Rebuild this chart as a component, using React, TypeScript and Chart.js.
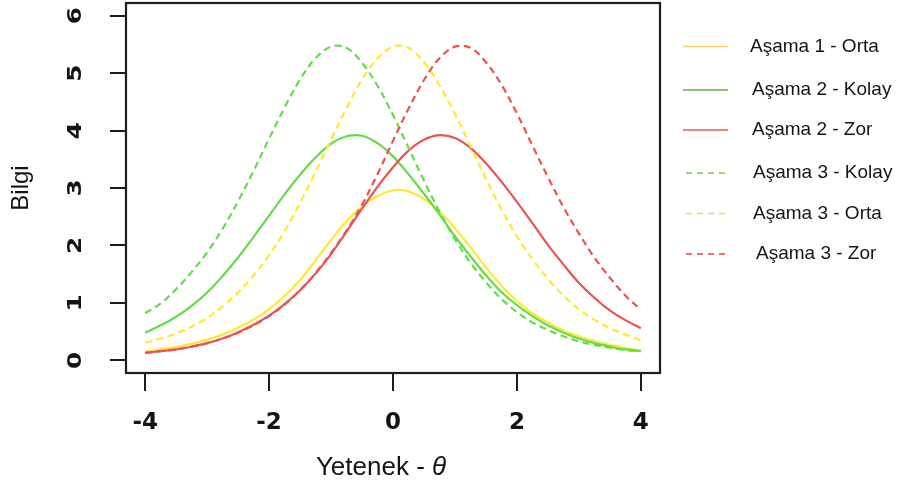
import React, { useEffect, useRef } from 'react';
import { Chart, registerables } from 'chart.js';

Chart.register(...registerables);

// ---- data ----
const thetaValues = [-4, -3.75, -3.5, -3.25, -3, -2.75, -2.5, -2.25, -2, -1.75, -1.5, -1.25, -1, -0.75, -0.5, -0.25, 0, 0.25, 0.5, 0.75, 1, 1.25, 1.5, 1.75, 2, 2.25, 2.5, 2.75, 3, 3.25, 3.5, 3.75, 4];

const asama1Orta = [0.15, 0.19, 0.23, 0.29, 0.36, 0.45, 0.57, 0.71, 0.89, 1.12, 1.40, 1.74, 2.09, 2.42, 2.68, 2.86, 2.96, 2.94, 2.81, 2.59, 2.30, 1.97, 1.62, 1.30, 1.03, 0.82, 0.66, 0.52, 0.42, 0.34, 0.27, 0.22, 0.17];
const asama2Kolay = [0.48, 0.61, 0.76, 0.95, 1.18, 1.47, 1.79, 2.15, 2.52, 2.89, 3.23, 3.53, 3.77, 3.90, 3.91, 3.78, 3.55, 3.24, 2.90, 2.54, 2.16, 1.81, 1.48, 1.19, 0.96, 0.77, 0.61, 0.48, 0.38, 0.30, 0.24, 0.19, 0.16];
const asama2Zor = [0.13, 0.16, 0.19, 0.24, 0.30, 0.38, 0.49, 0.62, 0.78, 0.98, 1.22, 1.51, 1.85, 2.24, 2.64, 3.02, 3.36, 3.65, 3.84, 3.92, 3.87, 3.70, 3.43, 3.11, 2.76, 2.39, 2.01, 1.67, 1.35, 1.09, 0.87, 0.70, 0.56];
const asama3Kolay = [0.82, 0.99, 1.24, 1.54, 1.88, 2.29, 2.77, 3.30, 3.86, 4.40, 4.89, 5.26, 5.46, 5.44, 5.18, 4.78, 4.27, 3.70, 3.13, 2.59, 2.11, 1.70, 1.36, 1.07, 0.84, 0.66, 0.53, 0.42, 0.33, 0.27, 0.22, 0.18, 0.16];
const asama3Orta = [0.31, 0.38, 0.47, 0.59, 0.74, 0.94, 1.18, 1.48, 1.83, 2.25, 2.74, 3.28, 3.84, 4.39, 4.89, 5.26, 5.46, 5.44, 5.19, 4.79, 4.29, 3.73, 3.16, 2.63, 2.16, 1.76, 1.42, 1.13, 0.89, 0.71, 0.56, 0.45, 0.35];
const asama3Zor = [0.13, 0.16, 0.19, 0.24, 0.30, 0.38, 0.48, 0.61, 0.77, 0.97, 1.22, 1.52, 1.87, 2.26, 2.71, 3.24, 3.82, 4.38, 4.88, 5.26, 5.46, 5.44, 5.19, 4.80, 4.30, 3.74, 3.19, 2.67, 2.21, 1.79, 1.44, 1.13, 0.88];

const seriesLabels = ['Aşama 1 - Orta', 'Aşama 2 - Kolay', 'Aşama 2 - Zor', 'Aşama 3 - Kolay', 'Aşama 3 - Orta', 'Aşama 3 - Zor'];
const seriesValues = [asama1Orta, asama2Kolay, asama2Zor, asama3Kolay, asama3Orta, asama3Zor];

const xTicks = [-4, -2, 0, 2, 4];
const yTicks = [0, 1, 2, 3, 4, 5, 6];
const xTitleMain = 'Yetenek - ';
const xTitleSymbol = 'θ';
const yTitle = 'Bilgi';

// ---- styles ----
const lineColors = ['#ffe92e', '#62dc4a', '#ec5252', '#62dc4a', '#ffe92e', '#ec5252'];
const legendColors = ['#f6d35a', '#6aac4c', '#e35c4e', '#7cc15a', '#f6d35a', '#e8493e'];
const dashed = [false, false, false, true, true, true];
const legendRowY = [46.5, 90, 130, 173, 213.5, 254];
const legendTextX = [750, 752, 752, 753, 753, 756];

const overlayPlugin = {
  id: 'overlayPlugin',
  afterDraw(chart: any) {
    const { ctx, chartArea: a } = chart;
    ctx.save();
    // frame
    ctx.strokeStyle = '#1c1c1c';
    ctx.lineWidth = 2.2;
    ctx.setLineDash([]);
    ctx.strokeRect(a.left, a.top, a.right - a.left, a.bottom - a.top);

    // rotated y tick labels
    const ys = chart.scales.y;
    ctx.fillStyle = '#141414';
    ctx.font = 'bold 19px "DejaVu Sans"';
    ctx.textAlign = 'center';
    ctx.textBaseline = 'middle';
    for (const v of yTicks) {
      const py = ys.getPixelForValue(v);
      ctx.save();
      ctx.translate(76, py);
      ctx.rotate(-Math.PI / 2);
      ctx.scale(1.3, 1);
      ctx.fillText(String(v), 0, 0);
      ctx.restore();
    }

    // x axis title with italic theta
    ctx.textBaseline = 'alphabetic';
    ctx.textAlign = 'left';
    const mainFont = '26px "Liberation Sans"';
    const symFont = 'italic 26px "Liberation Sans"';
    ctx.font = mainFont;
    const w1 = ctx.measureText(xTitleMain).width;
    ctx.font = symFont;
    const w2 = ctx.measureText(xTitleSymbol).width;
    const cx = 381;
    const startX = cx - (w1 + w2) / 2;
    ctx.fillStyle = '#141414';
    ctx.font = mainFont;
    ctx.fillText(xTitleMain, startX, 475);
    ctx.font = symFont;
    ctx.fillText(xTitleSymbol, startX + w1, 475);

    // legend
    chart.data.datasets.forEach((ds: any, i: number) => {
      const y = legendRowY[i];
      ctx.save();
      ctx.strokeStyle = legendColors[i];
      ctx.lineWidth = 1.6;
      if (dashed[i]) {
        ctx.setLineDash([6, 5]);
        ctx.beginPath();
        ctx.moveTo(686, y);
        ctx.lineTo(725, y);
      } else {
        ctx.setLineDash([]);
        ctx.beginPath();
        ctx.moveTo(683, y);
        ctx.lineTo(728, y);
      }
      ctx.stroke();
      ctx.restore();
      ctx.fillStyle = '#141414';
      ctx.font = '19px "Liberation Sans"';
      ctx.textAlign = 'left';
      ctx.textBaseline = 'middle';
      ctx.fillText(ds.label, legendTextX[i], y);
    });
    ctx.restore();
  },
};

export default function App() {
  const ref = useRef<HTMLCanvasElement>(null);

  useEffect(() => {
    if (!ref.current) return;
    const datasets = seriesLabels.map((label, i) => ({
      label,
      data: thetaValues.map((x, j) => ({ x, y: seriesValues[i][j] })),
      borderColor: lineColors[i],
      backgroundColor: lineColors[i],
      borderWidth: 2.2,
      borderDash: dashed[i] ? [7, 4.5] : [],
      pointRadius: 0,
      tension: 0.35,
      fill: false,
      order: seriesLabels.length - i,
    }));

    const chart = new Chart(ref.current, {
      type: 'line',
      data: { datasets },
      options: {
        animation: false,
        responsive: false,
        devicePixelRatio: 1,
        layout: { padding: { left: 0, right: 238, top: 3, bottom: 0 } },
        plugins: {
          legend: { display: false },
          tooltip: { enabled: false },
        },
        scales: {
          x: {
            type: 'linear',
            min: -4.31,
            max: 4.31,
            afterBuildTicks: (scale: any) => {
              scale.ticks = xTicks.map((v) => ({ value: v }));
            },
            afterFit: (scale: any) => {
              scale.height = 108;
            },
            ticks: {
              autoSkip: false,
              maxRotation: 0,
              minRotation: 0,
              padding: 18,
              color: '#141414',
              font: { family: '"DejaVu Sans"', weight: 'bold', size: 23 },
            },
            grid: {
              display: true,
              drawOnChartArea: false,
              drawTicks: true,
              tickLength: 18,
              lineWidth: 2,
              color: '#1c1c1c',
            },
            border: { display: false },
            title: { display: false },
          },
          y: {
            type: 'linear',
            min: -0.22,
            max: 6.22,
            afterBuildTicks: (scale: any) => {
              scale.ticks = yTicks.map((v) => ({ value: v }));
            },
            afterFit: (scale: any) => {
              scale.width = 126;
            },
            ticks: {
              display: false,
            },
            grid: {
              display: true,
              drawOnChartArea: false,
              drawTicks: true,
              tickLength: 16,
              lineWidth: 2,
              color: '#1c1c1c',
            },
            border: { display: false },
            title: {
              display: true,
              text: yTitle,
              color: '#141414',
              font: { family: '"Liberation Sans"', size: 24 },
              padding: { top: 7, bottom: 0 },
            },
          },
        },
      },
      plugins: [overlayPlugin],
    } as any);

    return () => chart.destroy();
  }, []);

  return (
    <div style={{ position: 'fixed', left: 0, top: 0, width: 898, height: 481, background: '#ffffff' }}>
      <canvas ref={ref} width={898} height={481} style={{ display: 'block', width: 898, height: 481 }} />
    </div>
  );
}
